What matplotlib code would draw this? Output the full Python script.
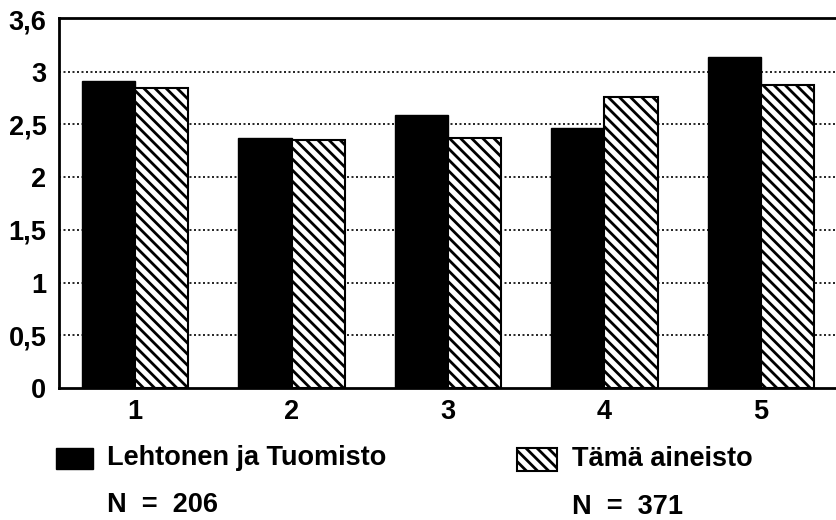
import matplotlib
matplotlib.use("Agg")
import matplotlib.pyplot as plt
import numpy as np
from matplotlib.patches import Rectangle

categories = ["1", "2", "3", "4", "5"]
lehtonen = [2.91, 2.37, 2.59, 2.47, 3.14]
tama = [2.85, 2.35, 2.37, 2.76, 2.87]
ytick_vals = [0, 0.5, 1, 1.5, 2, 2.5, 3, 3.5]
ytick_labels = ["0", "0,5", "1", "1,5", "2", "2,5", "3", "3,6"]
legend_labels = ["Lehtonen ja Tuomisto", "Tämä aineisto"]
n_labels = ["N  =  206", "N  =  371"]

plt.rcParams['font.family'] = ['Liberation Sans', 'DejaVu Sans']
plt.rcParams['hatch.linewidth'] = 2.0

W, H = 836, 520
fig = plt.figure(figsize=(W/100, H/100), dpi=100)
ax = fig.add_axes([59/W, (H-388)/H, (836-59)/W, 370/H])

x = np.arange(1, len(categories)+1)
bw = 0.34
ax.bar(x - bw/2, lehtonen, width=bw, color='black', edgecolor='black', linewidth=1, zorder=3)
ax.bar(x + bw/2, tama, width=bw, color='white', edgecolor='black', hatch='\\'*3, linewidth=1.5, zorder=3)

ax.set_xlim(0.514, 5.48)
ax.set_ylim(0, 3.51)
ax.set_yticks(ytick_vals)
ax.set_yticklabels(ytick_labels)
ax.set_xticks(x)
ax.set_xticklabels(categories)
ax.tick_params(axis='y', length=0, labelsize=19.5, pad=9)
ax.tick_params(axis='x', length=0, labelsize=19.5, pad=8)
for lab in ax.get_xticklabels() + ax.get_yticklabels():
    lab.set_fontweight('bold')

for v in ytick_vals[1:-1]:
    ax.axhline(v, color='black', linestyle=(0, (1.2, 1.5)), linewidth=1.2, zorder=1)

for s in ['left', 'bottom', 'top']:
    ax.spines[s].set_linewidth(2)
ax.spines['right'].set_visible(False)

# legend
fig.patches.append(Rectangle((56/W, (H-469)/H), 37/W, 21/H, transform=fig.transFigure,
                             facecolor='black', edgecolor='black', figure=fig))
fig.patches.append(Rectangle((517/W, (H-471)/H), 40/W, 23/H, transform=fig.transFigure,
                             facecolor='white', edgecolor='black', hatch='\\'*3, linewidth=1.5, figure=fig))
fs = 19.5
fig.text(107/W, (H-458)/H, legend_labels[0], fontsize=fs, fontweight='bold', va='center', ha='left')
fig.text(572/W, (H-459)/H, legend_labels[1], fontsize=fs, fontweight='bold', va='center', ha='left')
fig.text(107/W, (H-505)/H, n_labels[0], fontsize=fs, fontweight='bold', va='center', ha='left')
fig.text(572/W, (H-507)/H, n_labels[1], fontsize=fs, fontweight='bold', va='center', ha='left')

fig.savefig("out.png", dpi=100)
